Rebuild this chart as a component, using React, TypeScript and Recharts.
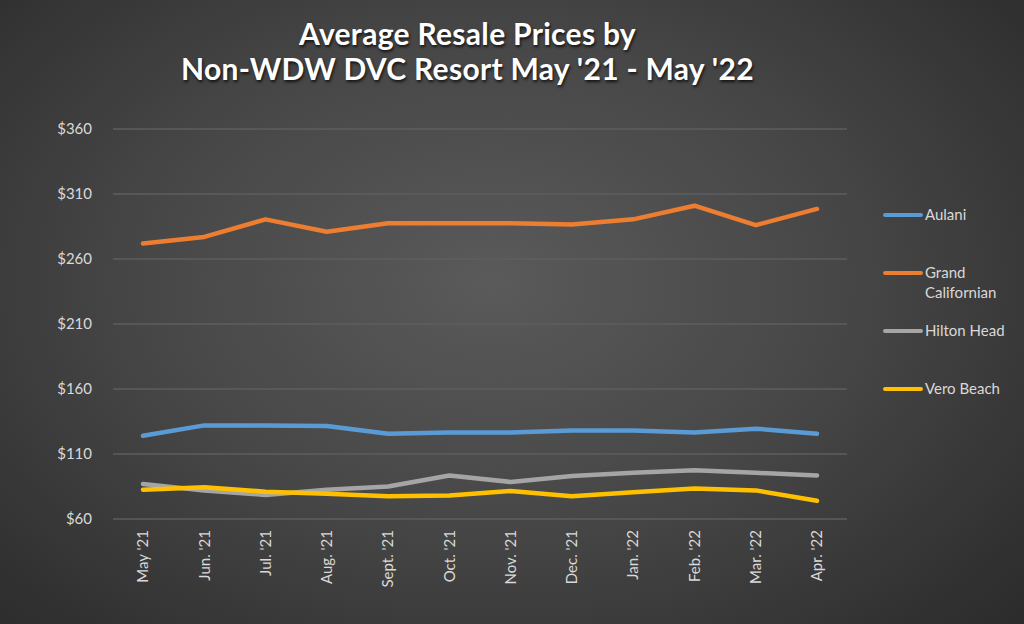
import { LineChart, Line, XAxis, YAxis, CartesianGrid, Legend } from "recharts";

const MONTHS = [
  "May '21",
  "Jun. '21",
  "Jul. '21",
  "Aug. '21",
  "Sept. '21",
  "Oct. '21",
  "Nov. '21",
  "Dec. '21",
  "Jan. '22",
  "Feb. '22",
  "Mar. '22",
  "Apr. '22",
];

const AULANI = [124, 132, 132, 131.5, 125.5, 126.5, 126.5, 128, 128, 126.5, 129.5, 125.5];
const GRAND_CALIFORNIAN = [272, 277, 290.5, 281, 287.5, 287.5, 287.5, 286.5, 290.5, 301, 286, 298.5];
const HILTON_HEAD = [87, 82, 78.5, 82.5, 85, 93.5, 88.5, 93, 95.5, 97.5, 95.5, 93.5];
const VERO_BEACH = [82.5, 84.5, 81, 79.5, 77.5, 78, 81.5, 77.5, 80.5, 83.5, 82, 74];

const Y_TICKS = [60, 110, 160, 210, 260, 310, 360];

const SERIES = [
  { key: "aulani", name: "Aulani", color: "#5b9bd5", values: AULANI },
  { key: "grand", name: "Grand Californian", color: "#ed7d31", values: GRAND_CALIFORNIAN },
  { key: "hilton", name: "Hilton Head", color: "#a5a5a5", values: HILTON_HEAD },
  { key: "vero", name: "Vero Beach", color: "#ffc000", values: VERO_BEACH },
];

const data = MONTHS.map((m, i) => {
  const row: any = { month: m };
  SERIES.forEach((s) => {
    row[s.key] = s.values[i];
  });
  return row;
});

const FONT = "Lato, 'Open Sans', sans-serif";

const MonthTick = ({ x, y, payload }: any) => (
  <g transform={`translate(${x},${y})`}>
    <text
      transform="rotate(-90)"
      textAnchor="end"
      dy="0.35em"
      fill="#d9d9d9"
      fontSize={15}
      fontFamily={FONT}
    >
      {payload.value}
    </text>
  </g>
);

// legend rows have uneven gaps in the original, so each gets its own top
const LEGEND_TOPS = [0, 58, 116, 174];

const LegendBox = () => (
  <div style={{ position: "relative", width: 140, height: 200, fontFamily: FONT }}>
    {SERIES.map((s, i) => (
      <div
        key={s.key}
        style={{ position: "absolute", top: LEGEND_TOPS[i], left: 0, display: "flex" }}
      >
        <div
          style={{
            width: 40,
            height: 4,
            borderRadius: 2,
            background: s.color,
            marginTop: 9,
            marginRight: 2,
          }}
        />
        <div style={{ color: "#d9d9d9", fontSize: 15, lineHeight: "20px", width: 96 }}>
          {s.name}
        </div>
      </div>
    ))}
  </div>
);

export default function App() {
  return (
    <div
      style={{
        position: "relative",
        width: 1024,
        height: 624,
        background:
          "radial-gradient(ellipse 75% 85% at 48% 45%, #5a5a5a 0%, #474747 45%, #303030 85%, #292929 100%)",
        overflow: "hidden",
      }}
    >
      <style>{"body{margin:0}"}</style>
      <div
        style={{
          position: "absolute",
          top: 16,
          left: 0,
          width: 935,
          textAlign: "center",
          color: "#ffffff",
          fontFamily: FONT,
          fontWeight: 700,
          fontSize: 30,
          letterSpacing: 0.3,
          lineHeight: "35px",
          textShadow: "1px 2px 3px rgba(0,0,0,0.75)",
        }}
      >
        Average Resale Prices by
        <br />
        Non-WDW DVC Resort May '21 - May '22
      </div>
      <LineChart
        width={1024}
        height={624}
        data={data}
        margin={{ top: 129, right: 37, bottom: 5, left: 38 }}
      >
        <CartesianGrid vertical={false} stroke="#5e5e5e" strokeWidth={1.5} />
        <XAxis
          dataKey="month"
          padding={{ left: 30, right: 30 }}
          axisLine={false}
          tickLine={false}
          tickMargin={5}
          height={100}
          interval={0}
          tick={<MonthTick />}
        />
        <YAxis
          domain={[60, 360]}
          ticks={Y_TICKS}
          axisLine={false}
          tickLine={false}
          tickMargin={15}
          width={75}
          tickFormatter={(v) => `$${v}`}
          tick={{ fill: "#d9d9d9", fontSize: 15, fontFamily: FONT }}
        />
        <Legend
          layout="vertical"
          align="right"
          verticalAlign="top"
          wrapperStyle={{ position: "absolute", left: 883, top: 204, width: 140 }}
          content={() => <LegendBox />}
        />
        {SERIES.map((s) => (
          <Line
            key={s.key}
            type="linear"
            dataKey={s.key}
            name={s.name}
            stroke={s.color}
            strokeWidth={4.5}
            dot={false}
            activeDot={false}
            strokeLinecap="round"
            strokeLinejoin="round"
            isAnimationActive={false}
          />
        ))}
      </LineChart>
    </div>
  );
}
